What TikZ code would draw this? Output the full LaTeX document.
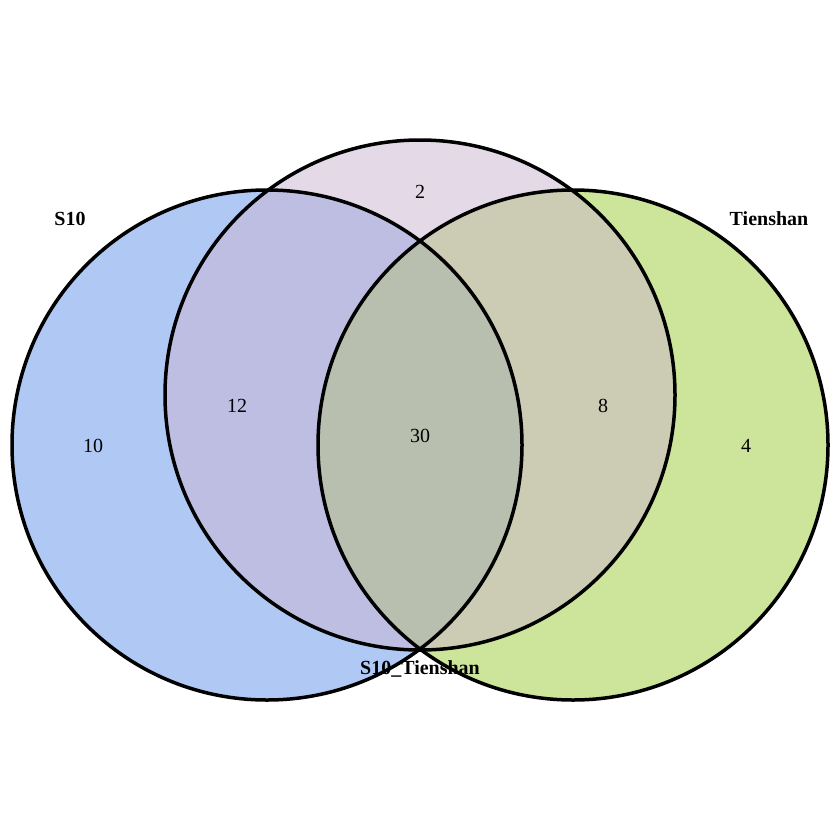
\documentclass[tikz,border=0pt]{standalone}
\usepackage{fontspec}
\setmainfont{Liberation Serif}
\definecolor{cblue}{RGB}{176,201,244}
\definecolor{cgreen}{RGB}{204,229,154}
\definecolor{cpink}{RGB}{228,217,230}
\definecolor{cbm}{RGB}{190,190,226}
\definecolor{cmg}{RGB}{204,204,180}
\definecolor{call}{RGB}{184,191,175}
\tikzset{
  lbl/.style={font=\fontsize{20}{24}\selectfont\bfseries, inner sep=0pt},
  num/.style={font=\fontsize{20}{24}\selectfont, inner sep=0pt},
  ring/.style={draw=black, line width=3.5pt}
}
\begin{document}
\begin{tikzpicture}[x=1pt,y=-1pt]
\useasboundingbox (0,0) rectangle (840,840);
\fill[white] (0,0) rectangle (840,840);
\def\CL{(267,445) circle (255)}
\def\CR{(573,445) circle (255)}
\def\CM{(420,395) circle (255)}
\fill[cblue] \CL;
\fill[cgreen] \CR;
\fill[cpink] \CM;
\begin{scope}\clip \CL; \fill[cbm] \CM; \end{scope}
\begin{scope}\clip \CR; \fill[cmg] \CM; \end{scope}
\begin{scope}\clip \CL; \clip \CR; \fill[call] \CM; \end{scope}
\draw[ring] \CL;
\draw[ring] \CR;
\draw[ring] \CM;
\node[lbl] (lS) at (70,218.5) {S10};
\node[lbl] (lT) at (769,218.5) {Tienshan};
\node[lbl] (lST) at (420,668.5) {S10\_Tienshan};
\node[num] (n2) at (420,191.5) {2};
\node[num] (n12) at (237,405.5) {12};
\node[num] (n10) at (93,445.5) {10};
\node[num] (n30) at (420,435.5) {30};
\node[num] (n8) at (603,405.5) {8};
\node[num] (n4) at (746,445.5) {4};
\end{tikzpicture}
\end{document}
